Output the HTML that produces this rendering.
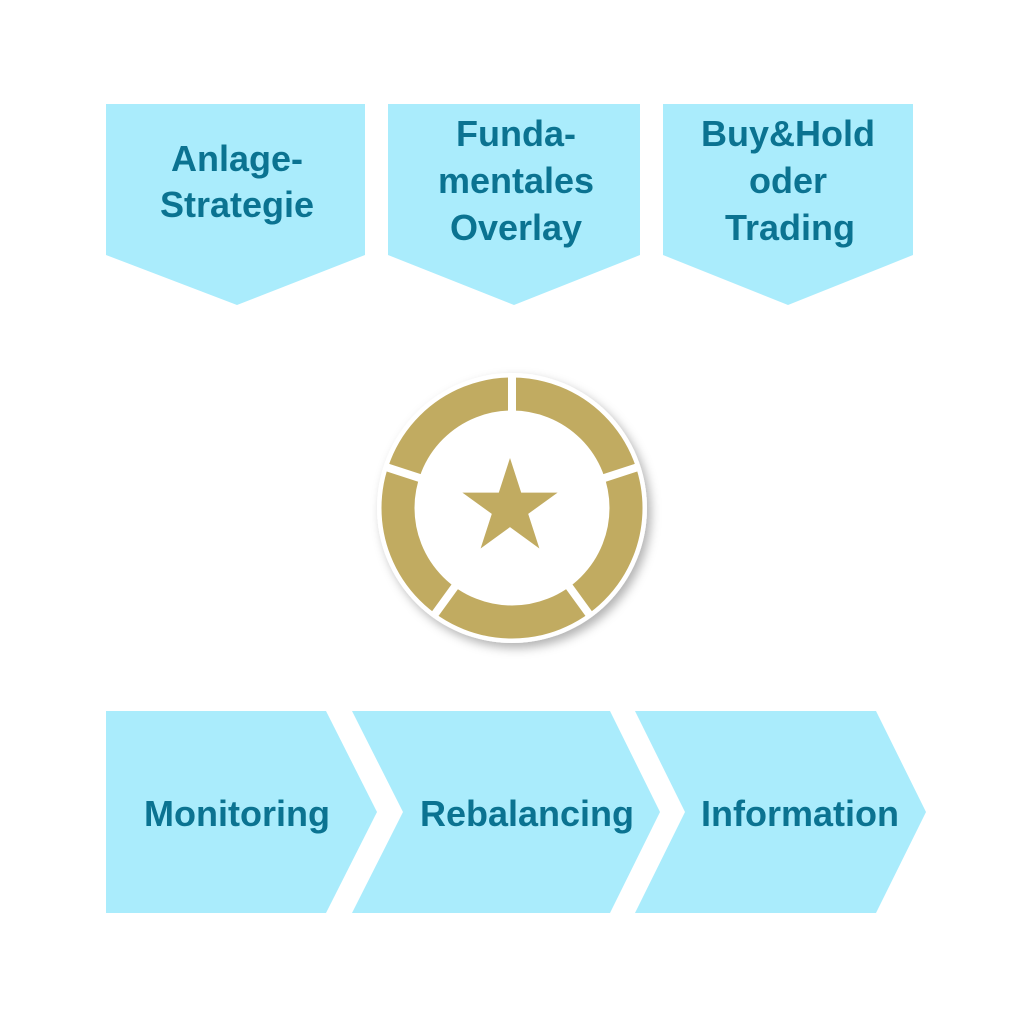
<!DOCTYPE html>
<html><head><style>html,body{margin:0;padding:0;background:#fff}</style></head>
<body>
<svg width="1024" height="1024" viewBox="0 0 1024 1024" xmlns="http://www.w3.org/2000/svg">
<defs>
<filter id="sh" x="-20%" y="-20%" width="140%" height="140%"><feDropShadow dx="4" dy="5" stdDeviation="5" flood-color="#000" flood-opacity="0.3"/></filter>
</defs>
<g fill="#aaecfc">
<polygon points="106,104 365,104 365,255 237,305 106,255"/>
<polygon points="388,104 640,104 640,255 514,305 388,255"/>
<polygon points="663,104 913,104 913,255 788,305 663,255"/>
<polygon points="106,711 326,711 377,812 326,913 106,913"/>
<polygon points="352,711 610,711 660,812 610,913 352,913 403,812"/>
<polygon points="635,711 876,711 926,812 876,913 635,913 685,812"/>
</g>
<g font-family="Liberation Sans, sans-serif" font-weight="bold" font-size="36" fill="#0b7391" text-anchor="middle">
<text x="237" y="171">Anlage-</text>
<text x="237" y="217">Strategie</text>
<text x="516" y="146">Funda-</text>
<text x="516" y="193">mentales</text>
<text x="516" y="240">Overlay</text>
<text x="788" y="146">Buy&amp;Hold</text>
<text x="788" y="193">oder</text>
<text x="790" y="240">Trading</text>
<text x="237" y="826">Monitoring</text>
<text x="527" y="826">Rebalancing</text>
<text x="800" y="826">Information</text>
</g>
<circle cx="512" cy="508" r="135" fill="#fff" filter="url(#sh)"/>
<circle cx="512" cy="508" r="114" fill="none" stroke="#c1ab61" stroke-width="33"/>
<g stroke="#fff" stroke-width="8" transform="translate(512 508)">
<line x1="0" y1="-90" x2="0" y2="-132" transform="rotate(0)"/>
<line x1="0" y1="-90" x2="0" y2="-132" transform="rotate(72)"/>
<line x1="0" y1="-90" x2="0" y2="-132" transform="rotate(144)"/>
<line x1="0" y1="-90" x2="0" y2="-132" transform="rotate(216)"/>
<line x1="0" y1="-90" x2="0" y2="-132" transform="rotate(288)"/>
</g>
<polygon fill="#c1ab61" transform="translate(510 508)" points="0,-50 11.2,-15.4 47.6,-15.4 18.2,5.9 29.4,40.5 0,19.1 -29.4,40.5 -18.2,5.9 -47.6,-15.4 -11.2,-15.4"/>
</svg>
</body></html>
